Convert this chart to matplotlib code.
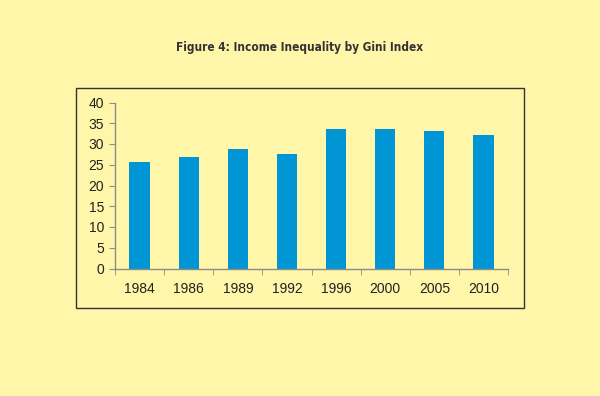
import numpy as np
import matplotlib.pyplot as plt
from matplotlib.patches import Rectangle

years = ["1984", "1986", "1989", "1992", "1996", "2000", "2005", "2010"]
gini = [25.7, 26.9, 28.9, 27.6, 33.6, 33.6, 33.1, 32.1]

bg = "#fff6a9"
bar_color = "#0096d6"
axis_color = "#8c8c8c"

plt.rcParams["font.family"] = ["Liberation Sans", "DejaVu Sans"]

fig = plt.figure(figsize=(6, 3.96), dpi=100, facecolor=bg)
ax = fig.add_axes([115 / 600, 1 - 268.5 / 396, 393 / 600, 166 / 396])
ax.set_facecolor(bg)

x = np.arange(len(years))
ax.bar(x, gini, width=0.41, color=bar_color)

ax.set_xlim(-0.5, len(years) - 0.5)
ax.set_ylim(0, 40)
ax.set_yticks(range(0, 41, 5))
ax.set_xticks(x)
ax.set_xticklabels(years)
ax.set_xticks(np.arange(-0.5, len(years), 1), minor=True)
ax.tick_params(axis="x", which="major", length=0, pad=10, labelsize=10, labelcolor="#222222")
ax.tick_params(axis="x", which="minor", length=4, color=axis_color, direction="out")
ax.tick_params(axis="y", length=4, color=axis_color, labelsize=10, labelcolor="#222222", pad=4)

for s in ["top", "right"]:
    ax.spines[s].set_visible(False)
for s in ["left", "bottom"]:
    ax.spines[s].set_color(axis_color)
    ax.spines[s].set_linewidth(1)

# outer frame around the chart
fig.patches.append(Rectangle((76 / 600, 1 - 308 / 396), 448 / 600, 220 / 396,
                             transform=fig.transFigure, fill=False,
                             edgecolor="#333333", linewidth=1))

fig.text(0.5, 1 - 47 / 396, "Figure 4: Income Inequality by Gini Index",
         ha="center", va="center", fontsize=8.5, fontweight="bold", color="#333333",
         family="DejaVu Sans", fontstretch="condensed")

fig.savefig("out.png", facecolor=bg)
